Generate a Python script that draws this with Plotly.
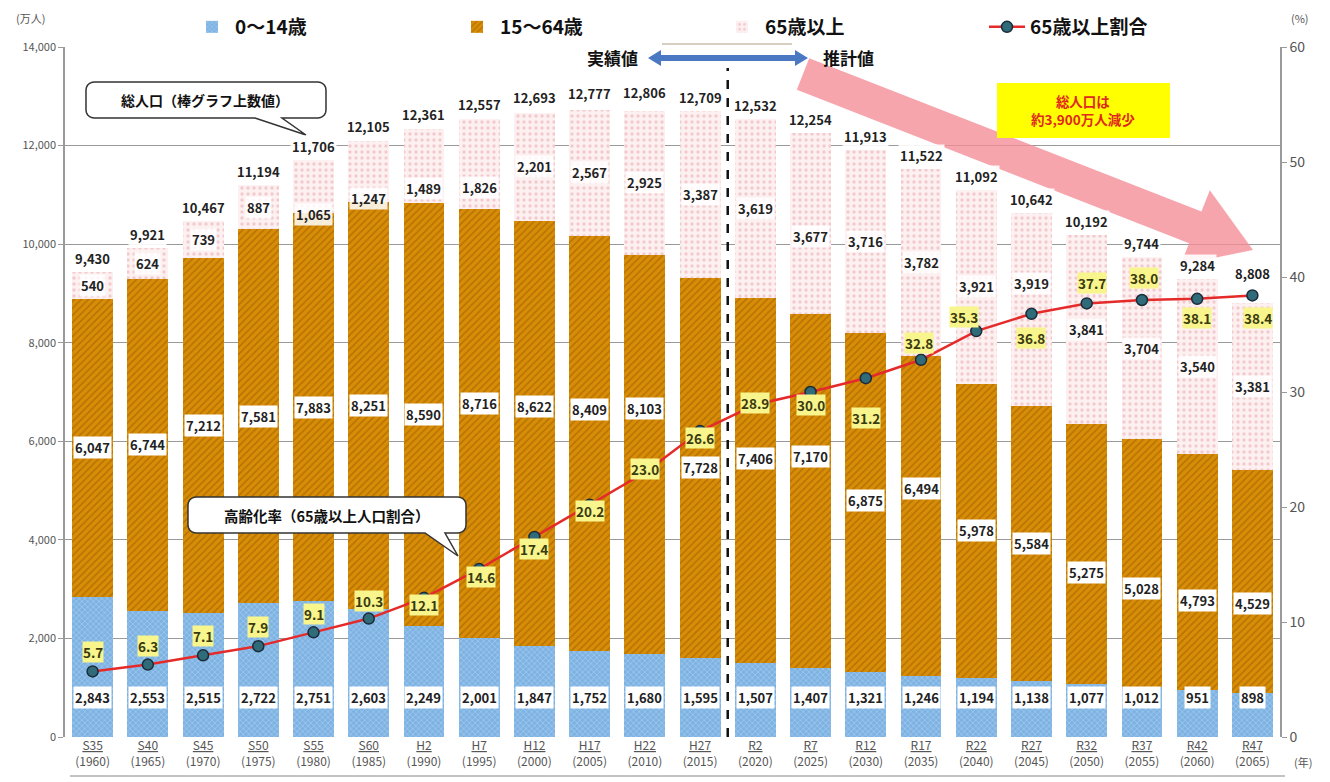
import math
import plotly.graph_objects as go

# ---------------- data ----------------
era = ["S35", "S40", "S45", "S50", "S55", "S60", "H2", "H7", "H12", "H17", "H22", "H27",
       "R2", "R7", "R12", "R17", "R22", "R27", "R32", "R37", "R42", "R47"]
years = ["1960", "1965", "1970", "1975", "1980", "1985", "1990", "1995", "2000", "2005", "2010", "2015",
         "2020", "2025", "2030", "2035", "2040", "2045", "2050", "2055", "2060", "2065"]
age_0_14 = [2843, 2553, 2515, 2722, 2751, 2603, 2249, 2001, 1847, 1752, 1680, 1595,
            1507, 1407, 1321, 1246, 1194, 1138, 1077, 1012, 951, 898]
age_15_64 = [6047, 6744, 7212, 7581, 7883, 8251, 8590, 8716, 8622, 8409, 8103, 7728,
             7406, 7170, 6875, 6494, 5978, 5584, 5275, 5028, 4793, 4529]
age_65 = [540, 624, 739, 887, 1065, 1247, 1489, 1826, 2201, 2567, 2925, 3387,
          3619, 3677, 3716, 3782, 3921, 3919, 3841, 3704, 3540, 3381]
total = [9430, 9921, 10467, 11194, 11706, 12105, 12361, 12557, 12693, 12777, 12806, 12709,
         12532, 12254, 11913, 11522, 11092, 10642, 10192, 9744, 9284, 8808]
ratio_65 = [5.7, 6.3, 7.1, 7.9, 9.1, 10.3, 12.1, 14.6, 17.4, 20.2, 23.0, 26.6,
            28.9, 30.0, 31.2, 32.8, 35.3, 36.8, 37.7, 38.0, 38.1, 38.4]
left_ticks = [0, 2000, 4000, 6000, 8000, 10000, 12000, 14000]
right_ticks = [0, 10, 20, 30, 40, 50, 60]

# label offsets (style only, pixels)
ratio_dx = [0, 0, 0, 0, 0, 0, 0, 2, 0, 0, 0, 0, 0, 0, 0, -2, -12, 0, 5, 2, 0, 6]
ratio_dy = [19, 19, 19, 19, 18, 18, -7, -8, -12, -6, 4, -7, 2, -13, -40, 17, 14, -24, 20, 22, -19, -23]
mid_dy = [0, 0, 10, 0, 0, 0, 0, 20, 27, 34, 46, 0, 22, 34, 2, 27, 0, 0, -19, -25, -28, -22]
old_dy = [0, 0, 0, 0, -28, -27, -22, -24, 0, 0, 0, 0, 0, -13, 0, 0, 0, 26, 0, 0, 0, 0]
total_dy = [2] * 21 + [18]

FONT = "Noto Sans CJK JP"
cats = [f"{e} {y}" for e, y in zip(era, years)]
ticktext = [f"<u>{e}</u><br>({y})" for e, y in zip(era, years)]

# page has an 8px body margin; figure is sized to fit the 1330x782 window
W_FIG, H_FIG = 1322, 774
L, T = 57, 39
PW, PH = 1215, 690
R = W_FIG - L - PW
B = H_FIG - T - PH


def px(x, y):
    # screen pixel of reference -> paper coords
    return (x - 65) / PW, (737 - y) / PH


def path_from(points):
    pts = [px(x, y) for x, y in points]
    return "M " + " L ".join(f"{a:.5f},{b:.5f}" for a, b in pts) + " Z"


fig = go.Figure()

fig.add_trace(go.Bar(
    x=cats, y=age_0_14, name="0～14歳",
    marker=dict(color="#7db3e3", line=dict(width=0),
                pattern=dict(shape="x", fgcolor="#c7def3", size=4, solidity=0.35)),
))
fig.add_trace(go.Bar(
    x=cats, y=age_15_64, name="15～64歳",
    marker=dict(color="#d98c05", line=dict(width=0),
                pattern=dict(shape="/", fgcolor="#8c5a05", size=5, solidity=0.3)),
))
fig.add_trace(go.Bar(
    x=cats, y=age_65, name="65歳以上",
    marker=dict(color="#fdf0f0", line=dict(width=0),
                pattern=dict(shape=".", fgcolor="#e8a4aa", size=6, solidity=0.25)),
))
fig.add_trace(go.Scatter(
    x=cats, y=ratio_65, name="65歳以上割合", yaxis="y2", mode="lines+markers",
    line=dict(color="#e52a2a", width=2.5),
    marker=dict(size=11, color="#2f6b78", line=dict(color="#1b2b3a", width=1.5)),
))

annotations = []
lab_font = dict(family=FONT, size=13, color="#222222")
for i, c in enumerate(cats):
    b0 = age_0_14[i]
    b1 = age_15_64[i]
    b2 = age_65[i]
    annotations.append(dict(x=c, y=800, text=f"<b>{b0:,}</b>", showarrow=False,
                            font=lab_font, bgcolor="white", borderpad=1))
    annotations.append(dict(x=c, y=b0 + b1 / 2, text=f"<b>{b1:,}</b>", showarrow=False,
                            yshift=mid_dy[i], font=lab_font, bgcolor="white", borderpad=1))
    annotations.append(dict(x=c, y=b0 + b1 + b2 / 2, text=f"<b>{b2:,}</b>", showarrow=False,
                            yshift=old_dy[i], font=lab_font,
                            bgcolor="rgba(255,255,255,0.85)", borderpad=1))
    annotations.append(dict(x=c, y=total[i], text=f"<b>{total[i]:,}</b>", showarrow=False,
                            font=lab_font, yanchor="bottom", yshift=total_dy[i],
                            bgcolor="rgba(255,255,255,0.9)", borderpad=1))
    annotations.append(dict(x=c, y=ratio_65[i], yref="y2", text=f"<b>{ratio_65[i]:.1f}</b>",
                            showarrow=False, xshift=ratio_dx[i], yshift=ratio_dy[i],
                            font=dict(family=FONT, size=13.5, color="#3a3a10"),
                            bgcolor="#f7f58c", borderpad=0))


def ptext(x, y, text, size, color="#111"):
    a, b = px(x, y)
    return dict(x=a, y=b, xref="paper", yref="paper", xanchor="center", yanchor="middle",
                text=text, showarrow=False, font=dict(family=FONT, size=size, color=color))


annotations += [
    ptext(30, 18, "(万人)", 11, "#555"),
    ptext(1300, 18, "(%)", 11, "#555"),
    ptext(1303, 762, "(年)", 11, "#555"),
    ptext(612, 58, "<b>実績値</b>", 17),
    ptext(848, 58, "<b>推計値</b>", 17),
    ptext(1083, 110, "<b>総人口は<br>約3,900万人減少</b>", 13.5, "#e0281e"),
    ptext(205, 100, "<b>総人口（棒グラフ上数値）</b>", 14),
    ptext(327, 515, "<b>高齢化率（65歳以上人口割合）</b>", 14.5),
]

shapes = []
# pink big arrow
S = (803, 74)
Tp = (1253, 250)
dx, dy = Tp[0] - S[0], Tp[1] - S[1]
ln = math.hypot(dx, dy)
ux, uy = dx / ln, dy / ln
nx, ny = -uy, ux
hw, hhw, hl = 17, 40, 62
Hx, Hy = Tp[0] - hl * ux, Tp[1] - hl * uy
arrow_pts = [
    (S[0] + hw * nx, S[1] + hw * ny),
    (Hx + hw * nx, Hy + hw * ny),
    (Hx + hhw * nx, Hy + hhw * ny),
    Tp,
    (Hx - hhw * nx, Hy - hhw * ny),
    (Hx - hw * nx, Hy - hw * ny),
    (S[0] - hw * nx, S[1] - hw * ny),
]
shapes.append(dict(type="path", xref="paper", yref="paper", path=path_from(arrow_pts),
                   fillcolor="rgba(245,140,150,0.78)", line=dict(width=0), layer="above"))

# blue double arrow
y0 = 58
bx0, bx1 = 648, 808
sh, hh, hlen = 3, 8, 13
blue_pts = [(bx0, y0), (bx0 + hlen, y0 - hh), (bx0 + hlen, y0 - sh), (bx1 - hlen, y0 - sh),
            (bx1 - hlen, y0 - hh), (bx1, y0), (bx1 - hlen, y0 + hh), (bx1 - hlen, y0 + sh),
            (bx0 + hlen, y0 + sh), (bx0 + hlen, y0 + hh)]
shapes.append(dict(type="path", xref="paper", yref="paper", path=path_from(blue_pts),
                   fillcolor="#4a78c2", line=dict(width=0), layer="above"))
shapes.append(dict(type="line", xref="paper", yref="paper",
                   x0=px(662, 44)[0], x1=px(792, 44)[0], y0=px(0, 44)[1], y1=px(0, 44)[1],
                   line=dict(color="#c8bfae", width=1.5)))

# dashed separator
shapes.append(dict(type="line", xref="x", yref="paper", x0=11.5, x1=11.5,
                   y0=0, y1=px(0, 68)[1], line=dict(color="#111", width=2.5, dash="dash"),
                   layer="above"))

# yellow box
shapes.append(dict(type="rect", xref="paper", yref="paper",
                   x0=px(997, 0)[0], x1=px(1170, 0)[0], y0=px(0, 138)[1], y1=px(0, 83)[1],
                   fillcolor="#ffff00", line=dict(width=0), layer="above"))


def callout(x0, y0_, x1, y1_, tail, r=8, tail_x=(0, 0)):
    ta, tb = tail_x
    pts = []
    steps = 5

    def arc(cx, cy, a0, a1):
        out = []
        for k in range(steps + 1):
            a = math.radians(a0 + (a1 - a0) * k / steps)
            out.append((cx + r * math.cos(a), cy + r * math.sin(a)))
        return out
    pts += arc(x0 + r, y0_ + r, 180, 270)
    pts += arc(x1 - r, y0_ + r, 270, 360)
    pts += arc(x1 - r, y1_ - r, 0, 90)
    pts += [(tb, y1_), tail, (ta, y1_)]
    pts += arc(x0 + r, y1_ - r, 90, 180)
    return path_from(pts)


shapes.append(dict(type="path", xref="paper", yref="paper",
                   path=callout(86, 82, 326, 118, (306, 135), tail_x=(255, 282)),
                   fillcolor="white", line=dict(color="#333", width=1.5), layer="above"))
shapes.append(dict(type="path", xref="paper", yref="paper",
                   path=callout(188, 497, 466, 533, (458, 556), tail_x=(425, 445)),
                   fillcolor="white", line=dict(color="#333", width=1.5), layer="above"))

# underline below year row
shapes.append(dict(type="line", xref="paper", yref="paper", x0=px(70, 0)[0], x1=px(1285, 0)[0],
                   y0=px(0, 776)[1], y1=px(0, 776)[1], line=dict(color="#888", width=1.2)))

fig.update_layout(
    width=W_FIG, height=H_FIG,
    barmode="stack", bargap=0.26,
    plot_bgcolor="white", paper_bgcolor="white",
    margin=dict(l=L, r=R, t=T, b=B, autoexpand=False),
    font=dict(family=FONT, color="#333"),
    xaxis=dict(type="category", range=[-0.5, len(cats) - 0.5], tickmode="array",
               tickvals=cats, ticktext=ticktext,
               tickfont=dict(family=FONT, size=12, color="#555"), showgrid=False,
               showline=False, ticks="", automargin=False),
    yaxis=dict(range=[0, 14000], tickvals=left_ticks, tickformat=",",
               tickfont=dict(family=FONT, size=11, color="#555"), showgrid=True,
               gridcolor="#9a9a9a", gridwidth=1.2, showline=True, linecolor="#9a9a9a",
               linewidth=1.5, ticks="outside", ticklen=5, tickcolor="#9a9a9a",
               zeroline=False, automargin=False),
    yaxis2=dict(range=[0, 60], tickvals=right_ticks, overlaying="y", side="right",
                tickfont=dict(family=FONT, size=14, color="#555"), showgrid=False,
                showline=True, linecolor="#9a9a9a", linewidth=1.5, ticks="outside",
                ticklen=5, tickcolor="#9a9a9a", zeroline=False, automargin=False),
    legend=dict(orientation="h", x=px(189, 0)[0], xanchor="left", y=px(0, 8)[1],
                yanchor="top", entrywidth=214, entrywidthmode="pixels", itemwidth=36,
                font=dict(family=FONT, size=19, color="#111", weight="bold"),
                bgcolor="rgba(0,0,0,0)", traceorder="normal", borderwidth=0),
    annotations=annotations,
    shapes=shapes,
)

fig.write_html("out.html")
